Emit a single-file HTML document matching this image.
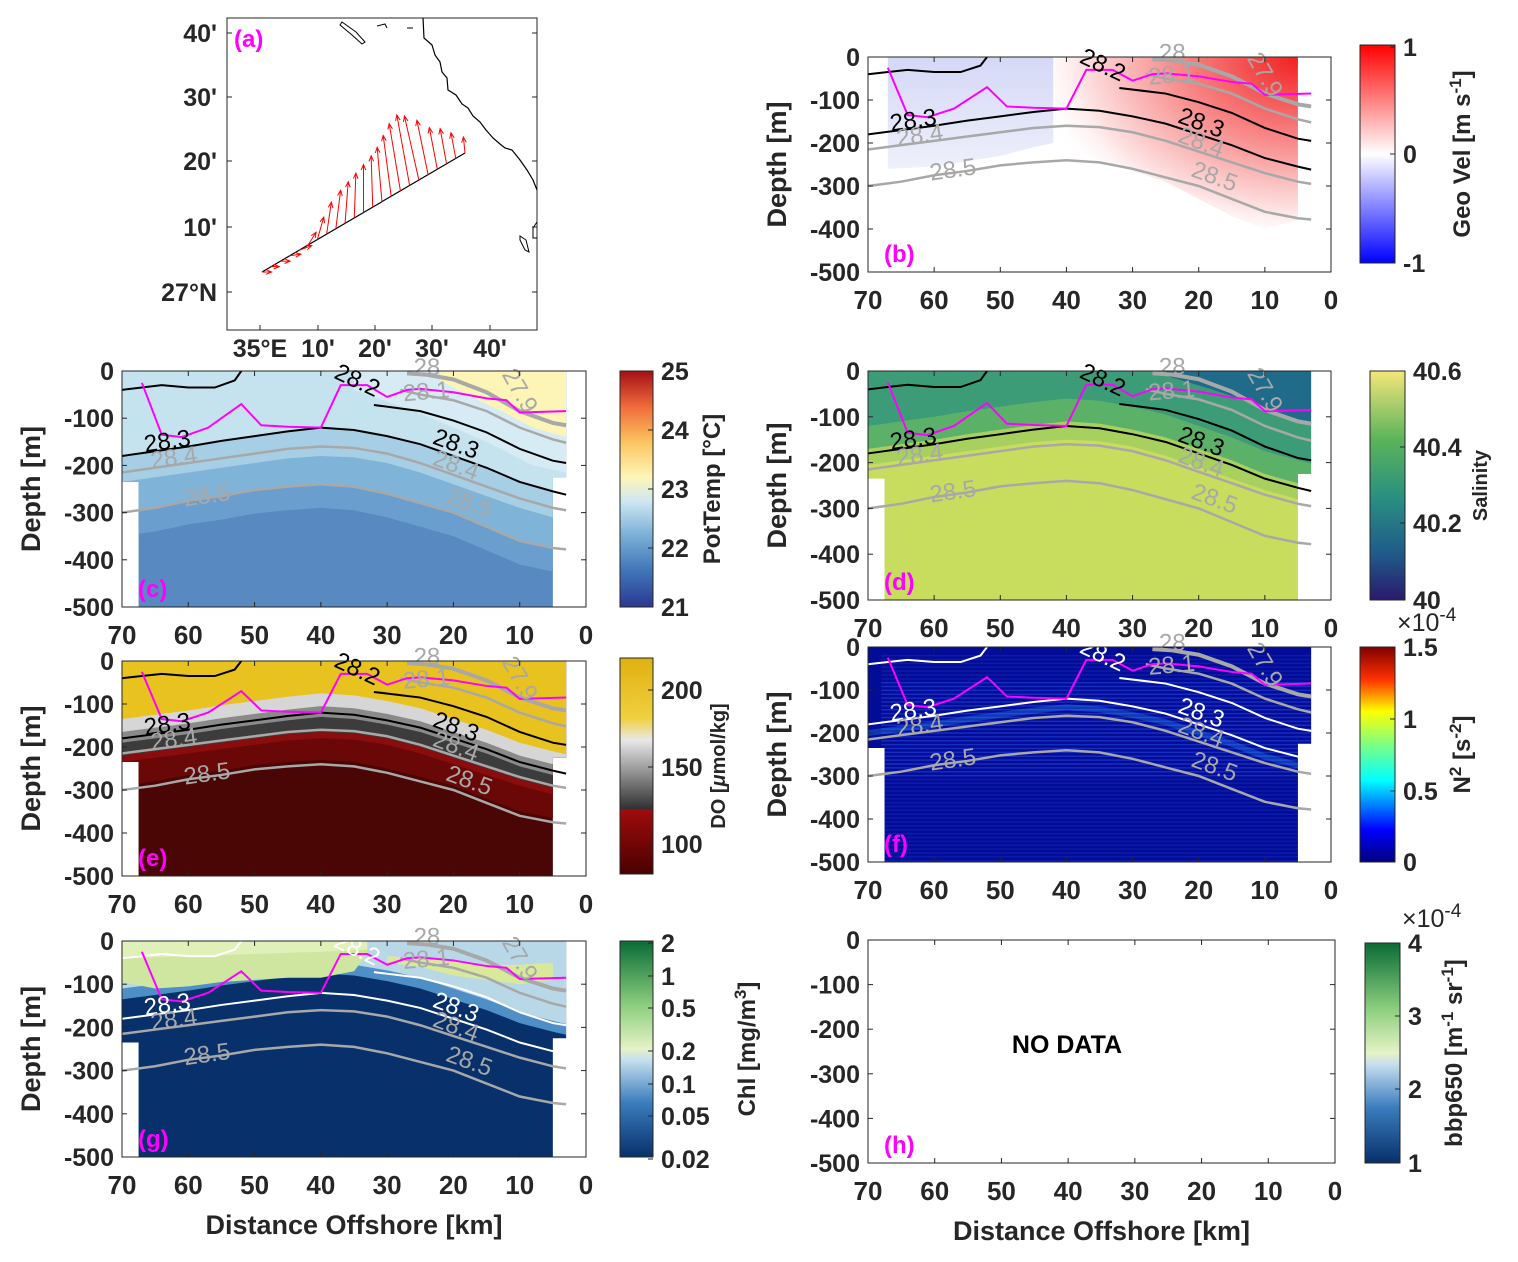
<!DOCTYPE html>
<html><head><meta charset="utf-8">
<style>
body{margin:0;background:#fff;}
svg{display:block;font-family:"Liberation Sans",sans-serif;}
</style></head>
<body>
<svg id="fig" width="1518" height="1262" viewBox="0 0 1518 1262" xmlns="http://www.w3.org/2000/svg">
<defs>
<linearGradient id="cbT" x1="0" y1="1" x2="0" y2="0">
<stop offset="0" stop-color="#2b3990"/><stop offset="0.15" stop-color="#3f74b8"/><stop offset="0.3" stop-color="#78aed6"/><stop offset="0.45" stop-color="#cfe8f2"/><stop offset="0.55" stop-color="#fdf6b8"/><stop offset="0.7" stop-color="#fbc460"/><stop offset="0.85" stop-color="#ef6a3a"/><stop offset="1" stop-color="#a50f15"/></linearGradient>
<linearGradient id="cbV" x1="0" y1="1" x2="0" y2="0"><stop offset="0" stop-color="#0000ff"/><stop offset="0.5" stop-color="#ffffff"/><stop offset="1" stop-color="#ff0000"/></linearGradient>
<linearGradient id="cbS" x1="0" y1="1" x2="0" y2="0"><stop offset="0" stop-color="#2a1a6b"/><stop offset="0.2" stop-color="#1f5a8a"/><stop offset="0.45" stop-color="#2a9080"/><stop offset="0.7" stop-color="#5ab45a"/><stop offset="1" stop-color="#f4e67a"/></linearGradient>
<linearGradient id="cbO" x1="0" y1="1" x2="0" y2="0"><stop offset="0" stop-color="#4a0000"/><stop offset="0.3" stop-color="#a00c0c"/><stop offset="0.3" stop-color="#303030"/><stop offset="0.62" stop-color="#e8e8e8"/><stop offset="0.72" stop-color="#f0d040"/><stop offset="1" stop-color="#e0b010"/></linearGradient>
<linearGradient id="cbN" x1="0" y1="1" x2="0" y2="0"><stop offset="0" stop-color="#000080"/><stop offset="0.15" stop-color="#0000ff"/><stop offset="0.38" stop-color="#00ffff"/><stop offset="0.55" stop-color="#7fff7f"/><stop offset="0.7" stop-color="#ffff00"/><stop offset="0.85" stop-color="#ff3000"/><stop offset="1" stop-color="#800000"/></linearGradient>
<linearGradient id="cbC" x1="0" y1="1" x2="0" y2="0"><stop offset="0" stop-color="#08306b"/><stop offset="0.25" stop-color="#3a7cbd"/><stop offset="0.45" stop-color="#c6dfee"/><stop offset="0.5" stop-color="#e6f2c6"/><stop offset="0.7" stop-color="#8ccf7e"/><stop offset="1" stop-color="#0a6b36"/></linearGradient>
<radialGradient id="redR" cx="1" cy="0" r="1.1"><stop offset="0" stop-color="#f22020"/><stop offset="0.45" stop-color="#f88a8a"/><stop offset="0.8" stop-color="#fde0e0"/><stop offset="1" stop-color="#ffffff" stop-opacity="0"/></radialGradient>
<linearGradient id="blueG" x1="0" y1="0" x2="0" y2="1"><stop offset="0" stop-color="#d4d8f6"/><stop offset="1" stop-color="#eef0fb"/></linearGradient>
</defs>
</svg>
<script>
// ---- shared section data (distance km, depth m) ----
const dist = [70,65,60,55,50,45,40,35,30,25,20,15,10,5,3];
const iso283 = [-180,-170,-160,-148,-138,-128,-120,-125,-138,-155,-180,-205,-235,-255,-262];
const iso284 = [-215,-205,-195,-185,-175,-165,-160,-163,-175,-195,-220,-245,-270,-290,-295];
const iso285 = [-300,-290,-275,-265,-252,-245,-240,-245,-260,-280,-300,-330,-360,-375,-378];
const iso282Dist = [32,25,20,15,10,5,3];
const iso282 = [-72,-85,-105,-130,-165,-190,-195];
const iso282bDist = [70,67,64,60,56,53,52];
const iso282b = [-40,-35,-30,-35,-35,-20,0];
const iso281Dist = [28,25,20,15,10,5,3];
const iso281 = [-40,-50,-62,-85,-120,-145,-152];
const iso280Dist = [27,24,20,15,10,5,3];
const iso280 = [-5,-8,-18,-45,-85,-110,-115];
const mldDist = [67,64,61,57,52,49,45,40,37,33,30,27,25,20,15,12,10,3];
const mldDepth = [-25,-135,-140,-120,-70,-115,-118,-120,-30,-30,-55,-40,-38,-45,-58,-62,-88,-85];
// map arrows (u east, v north), stations along track
const arrU = [6,5,6,7,8,5,4,3,3,2,1,0,-1,-3,-5,-7,-8,-9,-7,-5,-4,-3,-1];
const arrV = [0,0,0,1,3,8,14,20,24,26,28,30,32,34,38,42,44,40,34,26,22,16,10];

const svg=document.getElementById('fig');
const NS='http://www.w3.org/2000/svg';
function mk(tag,at,parent){const e=document.createElementNS(NS,tag);for(const k in at)e.setAttribute(k,at[k]);(parent||svg).appendChild(e);return e;}
function txt(x,y,s,at){const e=mk('text',Object.assign({x:x,y:y},at||{}));e.textContent=s;return e;}

function axes(x0,x1,y0,y1){
  return {sx:k=>x0+(70-k)/70*(x1-x0), sy:d=>y0+(-d)/500*(y1-y0), x0,x1,y0,y1};
}
function pts(A,ds,ys){return ds.map((d,i)=>A.sx(d)+','+A.sy(ys[i])).join(' ');}
function abovePoly(A,ds,ys){return pts(A,ds,ys)+' '+A.sx(ds[ds.length-1])+','+A.sy(0)+' '+A.sx(ds[0])+','+A.sy(0);}

function section(id,A,opt){
  const g=mk('g',{});
  
  
  const cp=mk('clipPath',{id:'cl'+id},g);
  const regionPts=[[70,0],[70,-235],[67.5,-235],[67.5,-500],[5,-500],[5,-225],[3,-225],[3,0]];
  if(opt.region) mk('polygon',{points:regionPts.map(p=>A.sx(p[0])+','+A.sy(p[1])).join(' ')},cp);
  const fg=mk('g',{'clip-path':opt.region?'url(#cl'+id+')':''},g);
  
  
  if(opt.base) mk('rect',{x:A.x0,y:A.y0,width:A.x1-A.x0,height:A.y1-A.y0,fill:opt.base},fg);
  if(opt.layers){
    opt.layers.forEach(L=>{const p=mk('polygon',{points:abovePoly(A,dist,L[0].map(v=>Math.min(0,v+L[2]))),fill:L[1]},fg);
      
    });
  }
  if(opt.extra) opt.extra(fg,A);
  if(opt.contours!==false){
    const cc=opt.cc||{b:'#000',g:'#a8a8a8'};
    const lines=[[dist,iso283,cc.b,2],[dist,iso284,cc.g,2.5],[dist,iso285,cc.g,2.5],[iso282Dist,iso282,cc.b,2],[iso282bDist,iso282b,cc.b,2],[iso281Dist,iso281,cc.g,2.5],[iso280Dist,iso280,cc.g,4]];
    lines.forEach((l,i)=>{const p=mk('polyline',{points:pts(A,l[0],l[1]),fill:'none',stroke:l[2],'stroke-width':l[3]},g);
      
      });
    const labs=[['28.3',63,-165,-8,cc.b],['28.3',20,-170,20,cc.b],['28.4',62,-200,-8,cc.g],['28.4',20,-215,20,cc.g],['28.5',57,-280,-8,cc.g],['28.5',18,-295,20,cc.g],['28.2',35,-35,25,cc.b],['28.1',24,-60,-5,cc.g],['28',24,-8,0,cc.g],['27.9',11,-50,60,cc.g]];
    labs.forEach(l=>{const t=txt(A.sx(l[1]),A.sy(l[2]),l[0],{'font-size':24,fill:l[4],'text-anchor':'middle',transform:'rotate('+l[3]+' '+A.sx(l[1])+' '+A.sy(l[2])+')'});
      
      });
    const m=mk('polyline',{points:pts(A,mldDist,mldDepth),fill:'none',stroke:'#ff00ff','stroke-width':2},g);
    
    
  }
  axisFrame(id,A,opt.xlabel,true);
  const pl=txt(A.x0+16,A.y1-10,'('+id+')',{'font-size':24,'font-weight':'bold',fill:'#ff00ff'});
  
  
}
function axisFrame(id,A,xlabel,ylabel){
  const fr=mk('rect',{x:A.x0,y:A.y0,width:A.x1-A.x0,height:A.y1-A.y0,fill:'none',stroke:'#262626','stroke-width':1});
  
  
  for(let k=70;k>=0;k-=10){const x=A.sx(k);
    mk('line',{x1:x,y1:A.y1,x2:x,y2:A.y1-5,stroke:'#262626'});mk('line',{x1:x,y1:A.y0,x2:x,y2:A.y0+5,stroke:'#262626'});
    const t=txt(x,A.y1+37,String(k),{'font-size':26,'font-weight':'bold','text-anchor':'middle',fill:'#262626'});
    
    }
  for(let d=0;d>=-500;d-=100){const y=A.sy(d);
    mk('line',{x1:A.x0,y1:y,x2:A.x0+5,y2:y,stroke:'#262626'});mk('line',{x1:A.x1,y1:y,x2:A.x1-5,y2:y,stroke:'#262626'});
    const t=txt(A.x0-8,y+9,String(d),{'font-size':25,'font-weight':'bold','text-anchor':'end',fill:'#262626'});
    
    }
  if(ylabel){
  const cy=(A.y0+A.y1)/2, cx=A.x0-82;
  const yl=txt(cx,cy,'Depth [m]',{'font-size':27,'font-weight':'bold','text-anchor':'middle',fill:'#262626',transform:'rotate(-90 '+cx+' '+cy+')'});
  
  }
  if(xlabel){const xl=txt((A.x0+A.x1)/2,A.y1+77,'Distance Offshore [km]',{'font-size':27,'font-weight':'bold','text-anchor':'middle',fill:'#262626'});
    
    }
}
function colorbar(name,x,y0,y1,w,grad,ticks,label,lx,lsize,mult){
  const r=mk('rect',{x:x,y:y0,width:w,height:y1-y0,fill:'url(#'+grad+')',stroke:'#262626','stroke-width':1});
  
  
  ticks.forEach(t=>{const tt=txt(x+w+8,t[1]+9,t[0],{'font-size':25,'font-weight':'bold',fill:'#262626'});
    
    
    mk('line',{x1:x+w-5,y1:t[1],x2:x+w,y2:t[1],stroke:'#262626'});});
  const cy=(y0+y1)/2;
  const l=mk('text',{x:lx,y:cy,'font-size':lsize,'font-weight':'bold','text-anchor':'middle',fill:'#262626',transform:'rotate(-90 '+lx+' '+cy+')'});
  l.innerHTML=label;
  
  
  if(mult){const m=mk('text',{x:x+w+2,y:y0-16,'font-size':25,fill:'#262626'});m.innerHTML='×10<tspan dy="-10" font-size="19">-4</tspan>';
    
    }
}

// ---- Panel (a) map ----
(function(){
  const fr=mk('rect',{x:227,y:18,width:310,height:312,fill:'#fff',stroke:'#262626'});
  
  
  [[33,"40'"],[97,"30'"],[161,"20'"],[227,"10'"],[292,"27°N"]].forEach(t=>{const e=txt(217,t[0]+9,t[1],{'font-size':25,'font-weight':'bold','text-anchor':'end',fill:'#262626'});
    
    
    mk('line',{x1:227,y1:t[0],x2:232,y2:t[0],stroke:'#262626'});mk('line',{x1:537,y1:t[0],x2:532,y2:t[0],stroke:'#262626'});});
  [[260,"35°E"],[318,"10'"],[375,"20'"],[432,"30'"],[490,"40'"]].forEach(t=>{const e=txt(t[0],357,t[1],{'font-size':25,'font-weight':'bold','text-anchor':'middle',fill:'#262626'});
    
    
    mk('line',{x1:t[0],y1:330,x2:t[0],y2:325,stroke:'#262626'});});
  const coast=mk('polyline',{points:'423,18 424,38 432,45 435,55 440,62 442,72 447,78 448,90 456,95 462,104 468,108 473,116 480,122 486,130 493,138 500,144 505,148 512,150 520,160 527,170 533,180 537,190',fill:'none',stroke:'#000','stroke-width':1.2});
  
  
  const isl=mk('path',{d:'M342,22 L356,32 L365,42 L362,44 L352,35 L340,25 Z M377,26 l8,-2 l2,4 M407,28 l6,0 M520,236 l6,4 l3,12 l-4,-2 l-5,-10 Z M537,222 l-4,6 l0,10 l4,0',fill:'none',stroke:'#000','stroke-width':1});
  
  
  const tr=mk('line',{x1:262,y1:272,x2:465,y2:153,stroke:'#000','stroke-width':1.2});
  
  
  const n=arrU.length, sc=1.6;
  for(let i=0;i<n;i++){const f=i/(n-1);const x=262+(465-262)*f, y=272+(153-272)*f;
    const ex=x+arrU[i]*sc, ey=y-arrV[i]*sc;
    const a=mk('g',{});
    
    
    mk('line',{x1:x,y1:y,x2:ex,y2:ey,stroke:'#f00','stroke-width':1},a);
    const ang=Math.atan2(ey-y,ex-x);const h=6;
    mk('polyline',{points:(ex-h*Math.cos(ang-0.4))+','+(ey-h*Math.sin(ang-0.4))+' '+ex+','+ey+' '+(ex-h*Math.cos(ang+0.4))+','+(ey-h*Math.sin(ang+0.4)),fill:'none',stroke:'#f00','stroke-width':1},a);}
  const pl=txt(234,47,'(a)',{'font-size':24,'font-weight':'bold',fill:'#ff00ff'});
  
  
})();

// ---- Panel (b) geostrophic velocity ----
section('b',axes(868,1331,57,272),{region:false,extra:(g,A)=>{
  mk('polygon',{points:abovePoly(A,[67,60,50,45,42],[-260,-255,-230,-210,-200]),fill:'url(#blueG)'},g);
  mk('polygon',{points:A.sx(42)+','+A.sy(0)+' '+A.sx(42)+','+A.sy(-200)+' '+pts(A,[35,25,15,10,5],[-240,-290,-370,-400,-380])+' '+A.sx(5)+','+A.sy(0),fill:'url(#redR)'},g);
}});
colorbar('geo-vel',1360,45,263,35,'cbV',[['1',47],['0',154],['-1',263]],'Geo Vel [m s<tspan dy="-9" font-size="17">-1</tspan><tspan dy="9">]</tspan>',1470,24);

// ---- Panel (c) potential temperature ----
section('c',axes(122,586,371,607),{region:true,base:'#5889c0',layers:[[iso285,'#6a9ecf',-50],[iso285,'#80b3d8',0],[iso284,'#a6cfe5',-20],[iso283,'#c5e3ef',0]],extra:(g,A)=>{
  mk('polygon',{points:pts(A,[35,25,15,8,3],[-40,-90,-150,-200,-215])+' '+A.sx(3)+','+A.sy(0)+' '+A.sx(35)+','+A.sy(0),fill:'#d6ebf3'},g);
  mk('polygon',{points:abovePoly(A,[22,18,12,8,3],[-20,-50,-90,-120,-140]),fill:'#fdf5b5'},g);}});
colorbar('pot-temp',620,371,607,33,'cbT',[['25',371],['24',430],['23',489],['22',548],['21',607]],'PotTemp [°C]',720,24);

// ---- Panel (d) salinity ----
section('d',axes(868,1331,371,600),{region:true,base:'#c8dc5e',layers:[[iso284,'#a8d05e',10],[iso283,'#5cb169',10],[iso283,'#3d9c78',60]],extra:(g,A)=>{
  mk('polygon',{points:abovePoly(A,[25,18,12,8,3],[-10,-40,-70,-100,-110]),fill:'#1f6b89'},g);}});
colorbar('salinity',1370,371,600,35,'cbS',[['40.6',371],['40.4',447],['40.2',523],['40',600]],'Salinity',1487,20);

// ---- Panel (e) dissolved oxygen ----
section('e',axes(122,586,661,876),{region:true,base:'#4a0505',layers:[[iso285,'#6a0707',10],[iso284,'#8a0c0c',-20],[iso284,'#3c3c3c',-5],[iso283,'#8a8a8a',-10],[iso283,'#d6d6d6',15],[iso283,'#e8c21e',45]]});
colorbar('do',620,658,874,33,'cbO',[['200',690],['150',767],['100',844]],'DO [<tspan font-style="italic">μ</tspan>mol/kg]',725,20);

// ---- Panel (f) N2 ----
section('f',axes(868,1331,647,862),{region:true,base:'#020c96',cc:{b:'#ffffff',g:'#a8a8a8'},extra:(g,A)=>{
  for(let d=-20;d>-500;d-=9){const w=(d>-300&&d<-80)?0.5:0.25;
    mk('line',{x1:A.sx(68),y1:A.sy(d),x2:A.sx(3),y2:A.sy(d),stroke:'#2a4ee8','stroke-width':1.5,opacity:w},g);}
  mk('polyline',{points:pts(A,dist,iso283.map(v=>v-20)),fill:'none',stroke:'#30a0ff','stroke-width':6,opacity:0.3},g);}});
colorbar('n2',1360,647,862,35,'cbN',[['1.5',647],['1',719],['0.5',791],['0',862]],'N<tspan dy="-9" font-size="17">2</tspan><tspan dy="9"> [s</tspan><tspan dy="-9" font-size="17">-2</tspan><tspan dy="9">]</tspan>',1470,24,true);

// ---- Panel (g) chlorophyll ----
section('g',axes(122,586,941,1157),{region:true,base:'#08306b',xlabel:true,cc:{b:'#ffffff',g:'#a8a8a8'},layers:[[iso283,'#4d8fc6',45],[iso283,'#b8d8e8',70]],extra:(g,A)=>{
  mk('polygon',{points:abovePoly(A,[70,65,60,55,50,45,40,35,33],[-95,-110,-105,-95,-90,-85,-85,-70,-30]),fill:'#cfe6a0'},g);
  mk('polygon',{points:abovePoly(A,[70,60,50,40,33],[-40,-35,-30,-25,-20]),fill:'#dff0b8'},g);
  mk('polygon',{points:pts(A,[30,25,20,15,10,5],[-50,-60,-80,-90,-100,-90])+' '+pts(A,[5,10,15,20,25,30],[-50,-55,-55,-45,-40,-35]),fill:'#d8ea9a'},g);}});
colorbar('chl',620,941,1157,33,'cbC',[['2',943],['1',976],['0.5',1008],['0.2',1051],['0.1',1084],['0.05',1116],['0.02',1159]],'Chl [mg/m<tspan dy="-9" font-size="17">3</tspan><tspan dy="9">]</tspan>',755,24);

// ---- Panel (h) bbp650 (no data) ----
(function(){const A=axes(868,1335,940,1163);
  axisFrame('h',A,true,false);
  const nd=txt(1067,1053,'NO DATA',{'font-size':25,'font-weight':'bold','text-anchor':'middle',fill:'#000'});
  
  
  const pl=txt(884,1153,'(h)',{'font-size':24,'font-weight':'bold',fill:'#ff00ff'});
  
  })();
colorbar('bbp650',1365,943,1163,35,'cbC',[['4',943],['3',1016],['2',1089],['1',1163]],'bbp650 [m<tspan dy="-9" font-size="17">-1</tspan><tspan dy="9"> sr</tspan><tspan dy="-9" font-size="17">-1</tspan><tspan dy="9">]</tspan>',1462,24,true);
</script>
</body></html>
